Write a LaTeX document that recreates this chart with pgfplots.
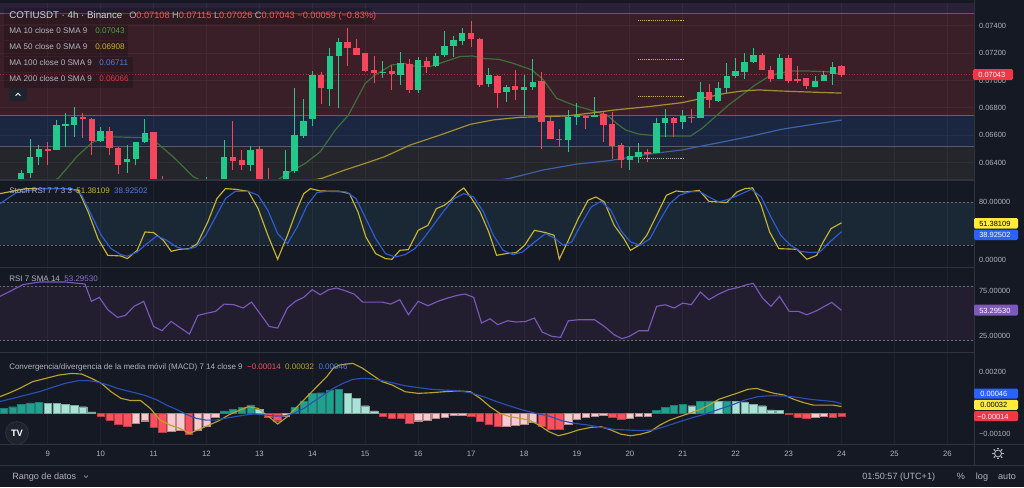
\documentclass[border=0pt]{standalone}
\usepackage{pgfplots}
\usepackage{pgfplotstable}
\pgfplotsset{compat=1.18}
\usepackage{fontspec}
\setmainfont{Liberation Sans}

\definecolor{bg}{HTML}{151924}
\definecolor{sep}{HTML}{2F333E}
\definecolor{lbl}{HTML}{B2B5BE}
\definecolor{ttl}{HTML}{D1D4DC}
\definecolor{bandtop}{HTML}{2A2137}
\definecolor{bandred}{HTML}{3A1F28}
\definecolor{bandblue}{HTML}{1B2641}
\definecolor{bandgray}{HTML}{24262C}
\definecolor{lnred}{HTML}{B8354A}
\definecolor{lnblue}{HTML}{3A62C8}
\definecolor{lngray}{HTML}{585B66}
\definecolor{upc}{HTML}{22C98A}
\definecolor{dnc}{HTML}{F4475C}
\definecolor{ma10}{HTML}{3F6E3B}
\definecolor{ma50}{HTML}{A1902F}
\definecolor{ma100}{HTML}{3F60A6}
\definecolor{v10}{HTML}{4AA545}
\definecolor{v50}{HTML}{C9B42C}
\definecolor{v100}{HTML}{4A7FD9}
\definecolor{v200}{HTML}{D8394B}
\definecolor{stband}{HTML}{1A2836}
\definecolor{rsiband}{HTML}{221E30}
\definecolor{dashc}{HTML}{676B76}
\definecolor{kline}{HTML}{C8B630}
\definecolor{dline}{HTML}{2F5CD6}
\definecolor{rsil}{HTML}{7B58BB}
\definecolor{macdl}{HTML}{B9A32B}
\definecolor{sigl}{HTML}{2A4FB8}
\definecolor{hdk}{HTML}{22A08E}
\definecolor{hlt}{HTML}{A9E2D6}
\definecolor{hrd}{HTML}{F9515E}
\definecolor{hpk}{HTML}{F9C9CD}
\definecolor{tvyel}{HTML}{FFEB3B}
\definecolor{tvblue}{HTML}{2962FF}
\definecolor{tvpurp}{HTML}{7E57C2}
\definecolor{tvred}{HTML}{F23645}
\definecolor{valred}{HTML}{F7525F}
\definecolor{btn}{HTML}{1F232E}

\newcommand{\fs}[1]{\fontsize{#1}{#1}\selectfont}

% 4h candles, k = 0 is day 9 00:00 (6 bars a day)
\pgfplotstableread{
k  o       h       l       c
-5 0.06200 0.06260 0.06180 0.06240
-3 0.06270 0.06347 0.06250 0.06322
-2 0.06322 0.06571 0.06286 0.06444
-1 0.06439 0.06529 0.06383 0.06498
1  0.06493 0.06712 0.06493 0.06675
2  0.06665 0.06760 0.06517 0.06680
3  0.06675 0.06804 0.06590 0.06736
6  0.06558 0.06663 0.06553 0.06631
9  0.06407 0.06529 0.06322 0.06427
10 0.06424 0.06553 0.06383 0.06553
11 0.06553 0.06716 0.06541 0.06614
14 0.06200 0.06260 0.06180 0.06230
16 0.06180 0.06240 0.06170 0.06210
17 0.06210 0.06270 0.06200 0.06250
18 0.06250 0.06298 0.06240 0.06275
20 0.06245 0.06566 0.06235 0.06439
23 0.06383 0.06522 0.06342 0.06493
26 0.06210 0.06260 0.06195 0.06240
27 0.06240 0.06493 0.06230 0.06342
28 0.06342 0.06948 0.06322 0.06602
29 0.06597 0.06863 0.06578 0.06707
30 0.06717 0.07069 0.06668 0.07040
32 0.06938 0.07235 0.06816 0.07181
33 0.07181 0.07308 0.06797 0.07279
38 0.07057 0.07145 0.07016 0.07064
40 0.07038 0.07210 0.06967 0.07130
42 0.06931 0.07174 0.06906 0.07150
44 0.07106 0.07198 0.07096 0.07181
45 0.07186 0.07364 0.07174 0.07254
46 0.07254 0.07325 0.07169 0.07296
47 0.07291 0.07381 0.07259 0.07344
50 0.06974 0.07089 0.06950 0.07040
52 0.06914 0.06967 0.06845 0.06955
54 0.06931 0.07040 0.06741 0.06950
55 0.06955 0.07155 0.06931 0.06991
59 0.06566 0.06785 0.06480 0.06736
60 0.06736 0.06833 0.06675 0.06746
62 0.06741 0.06877 0.06736 0.06748
66 0.06420 0.06517 0.06347 0.06449
67 0.06439 0.06541 0.06395 0.06480
69 0.06473 0.06724 0.06468 0.06692
70 0.06692 0.06792 0.06590 0.06724
72 0.06695 0.06785 0.06646 0.06741
74 0.06729 0.06987 0.06729 0.06914
76 0.06853 0.06987 0.06845 0.06948
77 0.06948 0.07130 0.06906 0.07035
78 0.07035 0.07162 0.07016 0.07072
79 0.07064 0.07198 0.07011 0.07137
80 0.07137 0.07235 0.07125 0.07186
83 0.07011 0.07193 0.07011 0.07162
87 0.06955 0.07033 0.06955 0.06999
88 0.06999 0.07069 0.06999 0.07040
89 0.07045 0.07133 0.06967 0.07101
}\upbars

\pgfplotstableread{
k  o       h       l       c
-4 0.06240 0.06270 0.06200 0.06220
0  0.06498 0.06553 0.06383 0.06488
4  0.06736 0.06760 0.06578 0.06717
5  0.06721 0.06724 0.06456 0.06558
7  0.06631 0.06658 0.06456 0.06505
8  0.06505 0.06517 0.06317 0.06383
12 0.06622 0.06626 0.06220 0.06240
13 0.06240 0.06303 0.06180 0.06200
15 0.06230 0.06250 0.06150 0.06180
19 0.06275 0.06280 0.06220 0.06240
21 0.06444 0.06707 0.06347 0.06415
22 0.06420 0.06493 0.06347 0.06383
24 0.06498 0.06522 0.06230 0.06250
25 0.06250 0.06359 0.06190 0.06210
31 0.07038 0.07064 0.06826 0.06943
34 0.07279 0.07381 0.07106 0.07235
35 0.07235 0.07301 0.07186 0.07186
36 0.07203 0.07203 0.07064 0.07069
37 0.07077 0.07179 0.06984 0.07052
39 0.07069 0.07113 0.06931 0.07047
41 0.07120 0.07155 0.06906 0.06931
43 0.07142 0.07174 0.07057 0.07101
48 0.07344 0.07437 0.07247 0.07301
49 0.07301 0.07308 0.06950 0.06967
51 0.07035 0.07040 0.06802 0.06906
53 0.06960 0.07077 0.06858 0.06931
56 0.06996 0.07064 0.06498 0.06699
57 0.06704 0.06736 0.06571 0.06571
58 0.06575 0.06646 0.06512 0.06566
61 0.06741 0.06748 0.06644 0.06731
63 0.06755 0.06772 0.06549 0.06675
64 0.06680 0.06772 0.06427 0.06524
65 0.06529 0.06546 0.06359 0.06420
68 0.06480 0.06498 0.06407 0.06468
71 0.06724 0.06731 0.06590 0.06687
73 0.06736 0.06790 0.06687 0.06724
75 0.06914 0.06972 0.06797 0.06858
81 0.07186 0.07198 0.07077 0.07077
82 0.07077 0.07106 0.06991 0.07011
84 0.07162 0.07186 0.06984 0.06996
85 0.07011 0.07106 0.06984 0.06999
86 0.07016 0.07016 0.06936 0.06960
90 0.07108 0.07115 0.07026 0.07043
}\downbars

% MACD histogram, split by colour
\pgfplotstableread{
k v
-5 0.00023
-4 0.00031
-3 0.00041
-2 0.00050
-1 0.00054
20 0.00011
21 0.00019
22 0.00028
23 0.00040
28 0.00028
29 0.00060
30 0.00097
31 0.00099
32 0.00109
33 0.00117
69 0.00015
70 0.00028
71 0.00039
72 0.00044
74 0.00057
75 0.00060
77 0.00060
}\hdark
\pgfplotstableread{
k v
0 0.00049
1 0.00047
2 0.00044
3 0.00039
4 0.00031
5 0.00006
24 0.00019
34 0.00096
35 0.00073
36 0.00036
37 0.00011
73 0.00036
76 0.00057
78 0.00057
79 0.00055
80 0.00044
81 0.00036
82 0.00016
83 0.00013
}\hlight
\pgfplotstableread{
k v
6 -0.00013
7 -0.00034
8 -0.00053
9 -0.00065
12 -0.00070
13 -0.00091
16 -0.00102
25 -0.00018
26 -0.00037
38 -0.00013
39 -0.00024
40 -0.00026
41 -0.00050
48 -0.00013
49 -0.00040
50 -0.00053
51 -0.00066
56 -0.00062
57 -0.00078
58 -0.00080
64 -0.00018
65 -0.00032
84 -0.00005
85 -0.00018
86 -0.00024
89 -0.00018
90 -0.00014
}\hred
\pgfplotstableread{
k v
10 -0.00050
11 -0.00037
14 -0.00086
15 -0.00084
17 -0.00083
18 -0.00065
19 -0.00021
27 -0.00013
42 -0.00037
43 -0.00034
44 -0.00024
45 -0.00018
46 -0.00011
47 -0.00008
52 -0.00062
53 -0.00057
54 -0.00053
55 -0.00045
59 -0.00053
60 -0.00029
61 -0.00018
62 -0.00013
63 -0.00010
66 -0.00024
67 -0.00016
68 -0.00013
87 -0.00022
88 -0.00013
}\hpink

\pgfplotsset{
  panel/.style={
    scale only axis, width=730.5pt, anchor=south west,
    xmin=-5.41, xmax=105.02,
    axis line style={draw=none}, tick style={draw=none},
    scaled y ticks=false, scaled x ticks=false,
    xtick={0,6,...,102}, xticklabels={},
    yticklabel pos=right,
    yticklabel style={anchor=west, xshift=2.6pt, inner sep=1pt, font=\fs{5.6}, text=lbl},
  },
}
\tikzset{
  gridln/.style={white, opacity=0.045, line width=0.75pt},
  bandln/.style={dashc, line width=0.6pt, dash pattern=on 1.5pt off 1.5pt},
}

\newcommand{\candles}[2]{%
  \addplot[draw=none, mark=none, forget plot,
    error bars/.cd, y dir=both, y explicit, error mark=none,
    error bar style={draw=#2, solid, line width=0.75pt}]
    table[x=k, y expr={(\thisrow{h}+\thisrow{l})/2}, y error expr={(\thisrow{h}-\thisrow{l})/2}] {#1};
  \addplot[draw=none, mark=none, forget plot,
    error bars/.cd, y dir=both, y explicit, error mark=none,
    error bar style={draw=#2, solid, line width=4.8pt}]
    table[x=k, y expr={(\thisrow{o}+\thisrow{c})/2}, y error expr={max(abs(\thisrow{c}-\thisrow{o})/2,0.000012)}] {#1};
}
\newcommand{\daygrid}[2]{%
  \pgfplotsinvokeforeach{0,6,...,102}{\draw[gridln] (axis cs:##1,#1) -- (axis cs:##1,#2);}
}

\begin{document}
\begin{tikzpicture}
\fill[bg] (0,0) rectangle (768pt,365.25pt);
\path[use as bounding box] (0,0) rectangle (768pt,365.25pt);

% ---------------- price panel ----------------
\begin{axis}[panel, at={(0pt,231pt)}, height=131.25pt,
  ymin=0.062809, ymax=0.075584,
  ytick={0.064,0.066,0.068,0.070,0.072,0.074},
  yticklabels={0.06400,0.06600,0.06800,0.07000,0.07200,0.07400}]
\fill[bandtop]  (axis cs:-6,0.07489) rectangle (axis cs:106,0.0760);
\fill[bandred]  (axis cs:-6,0.06743) rectangle (axis cs:106,0.07489);
\fill[bandblue] (axis cs:-6,0.06517) rectangle (axis cs:106,0.06743);
\fill[bandgray] (axis cs:-6,0.0620)  rectangle (axis cs:106,0.06517);
\daygrid{0.06}{0.08}
\pgfplotsinvokeforeach{0.064,0.066,0.068,0.070,0.072,0.074}{\draw[gridln] (axis cs:-6,#1) -- (axis cs:106,#1);}
\addplot[lnred, line width=0.8pt] coordinates {(-6,0.07489) (106,0.07489)};
\addplot[lnblue, line width=0.8pt] coordinates {(-6,0.06743) (106,0.06743)};
\addplot[lngray, line width=0.8pt] coordinates {(-6,0.06517) (106,0.06517)};
% levels
\addplot[kline, line width=0.9pt, dash pattern=on 0.8pt off 0.8pt] coordinates {(66.9,0.07440) (72.0,0.07440)};
\addplot[kline, line width=0.9pt, dash pattern=on 0.8pt off 0.8pt] coordinates {(66.9,0.07155) (72.0,0.07155)};
\addplot[kline, line width=0.9pt, dash pattern=on 0.8pt off 0.8pt] coordinates {(66.9,0.06882) (72.0,0.06882)};
\addplot[lbl, line width=0.9pt, dash pattern=on 0.8pt off 0.8pt] coordinates {(66.9,0.06429) (72.0,0.06429)};
% last price
\addplot[tvred, opacity=0.6, line width=0.6pt, dash pattern=on 0.7pt off 1.4pt] coordinates {(-6,0.07043) (106,0.07043)};
% moving averages
\addplot[ma10, line width=0.9pt] coordinates {
(-5.4,0.06180) (-2,0.06200) (0,0.06250) (1.2,0.06286) (3.3,0.06444) (5.0,0.06546) (6.7,0.06590)
(10.5,0.06583) (12,0.06566) (14.2,0.06444) (16.5,0.06298) (18,0.06250) (21,0.06200) (25,0.06230)
(27.5,0.06334) (29.2,0.06395) (30.9,0.06480) (32.6,0.06639) (34.1,0.06748) (36,0.06979) (37.1,0.07040)
(39,0.07113) (40.5,0.07125) (41.1,0.07106) (43.3,0.07101) (45,0.07137) (46.7,0.07174) (48.1,0.07179)
(49.6,0.07159) (51.1,0.07155) (52.8,0.07125) (54.9,0.07077) (56.2,0.07004) (57.7,0.06870) (59.6,0.06821)
(61.5,0.06785) (63.4,0.06748) (64.5,0.06687) (65.5,0.06639) (67,0.06609) (69.2,0.06595) (72.9,0.06595)
(74.2,0.06651) (75.7,0.06736) (77.2,0.06821) (78.7,0.06894) (80.2,0.06967) (81.7,0.07028) (82.8,0.07052)
(84.4,0.07069) (86.2,0.07069) (88.5,0.07064) (90,0.07043)};
\addplot[ma50, line width=0.9pt] coordinates {
(20,0.06150) (31.1,0.06286) (33.7,0.06347) (36,0.06395) (38.2,0.06444) (41.1,0.06529) (44.5,0.06602)
(47.9,0.06680) (50.5,0.06712) (53.5,0.06731) (56.2,0.06736) (58.8,0.06741) (61.9,0.06765) (64.3,0.06785)
(68.1,0.06809) (71.9,0.06838) (74.2,0.06870) (76.8,0.06906) (78.7,0.06923) (80.6,0.06931) (83.2,0.06923)
(86.2,0.06916) (90,0.06908)};
\addplot[ma100, line width=0.9pt] coordinates {
(40,0.06150) (52.4,0.06286) (56.2,0.06347) (60,0.06390) (63.7,0.06415) (68.1,0.06463) (71.9,0.06493)
(75.7,0.06541) (79.5,0.06590) (83.2,0.06644) (87,0.06682) (90,0.06711)};
\candles{\upbars}{upc}
\candles{\downbars}{dnc}
\end{axis}

% ---------------- Stoch RSI ----------------
\begin{axis}[panel, at={(0pt,165pt)}, height=64.5pt,
  ymin=-10.3, ymax=109.7, ytick={0,80}, yticklabels={0.00000,80.00000}]
\fill[stband] (axis cs:-6,20) rectangle (axis cs:106,80);
\daygrid{-20}{120}
\draw[bandln] (axis cs:-6,80) -- (axis cs:106,80);
\draw[bandln] (axis cs:-6,20) -- (axis cs:106,20);
\addplot[kline, line width=0.85pt] coordinates {
(-5.41,92.1) (-2.45,99.1) (2.00,99.1) (3.48,96.7) (4.59,66.5) (5.70,29.3) (6.81,6.0) (8.29,5.1) (9.03,1.4)
(10.15,13.0) (11.03,38.6) (12.00,37.7) (13.11,27.0) (14.00,11.6) (14.96,14.4) (16.07,15.3) (16.96,22.3)
(18.15,52.6) (19.18,85.1) (20.15,99.1) (21.26,98.1) (22.74,95.3) (23.85,71.2) (24.96,34.0) (26.07,0.5)
(27.18,34.0) (28.29,71.2) (29.03,92.1) (29.78,99.1) (30.89,95.8) (33.11,95.3) (34.22,92.1) (35.18,66.5)
(36.07,31.6) (37.18,8.4) (38.29,1.4) (39.03,0.5) (39.92,13.0) (40.89,14.0) (42.00,40.9) (43.11,47.9)
(44.07,71.2) (44.96,75.8) (45.70,82.8) (46.44,93.5) (47.18,100) (48.07,85.1) (49.03,66.5) (50.00,38.6)
(50.89,6.0) (52.00,8.4) (53.11,9.8) (54.07,20.0) (55.18,40.9) (56.44,37.7) (57.41,34.0) (58.00,0.5)
(59.03,27.0) (60.15,57.2) (61.26,82.8) (62.15,87.4) (63.11,80.5) (64.22,47.9) (65.33,29.3) (66.07,13.0)
(67.03,20.0) (67.92,34.0) (69.04,61.9) (70.15,89.8) (71.26,95.8) (72.22,94.4) (73.11,95.3) (73.85,96.7)
(74.96,81.4) (76.07,80.5) (76.96,79.5) (78.15,94.4) (79.04,99.1) (79.92,100) (80.89,75.8) (81.85,38.6)
(82.89,15.3) (83.85,14.9) (84.96,14.4) (86.07,0.5) (87.18,6.0) (87.92,24.7) (88.81,43.3) (90.00,51.38)};
\addplot[dline, line width=0.85pt] coordinates {
(-5.41,78.1) (-3.56,93.5) (-0.97,99.1) (2.74,99.1) (3.85,89.8) (4.96,61.9) (6.07,34.0) (7.18,15.3)
(8.29,7.0) (9.03,4.7) (10.15,10.7) (11.26,22.3) (12.37,33.0) (13.48,27.0) (14.59,17.7) (15.70,14.0)
(16.81,17.7) (17.92,34.0) (19.03,59.5) (20.15,85.1) (21.26,95.3) (22.74,95.3) (23.85,89.8) (24.96,68.8)
(26.07,36.3) (27.18,22.3) (28.29,45.6) (29.41,75.8) (30.52,93.5) (31.63,95.3) (33.85,94.4) (34.96,85.1)
(36.07,57.2) (37.18,29.3) (38.29,8.4) (39.41,3.7) (40.52,7.0) (41.63,15.3) (42.74,31.6) (43.85,50.2)
(44.96,68.8) (46.07,85.1) (47.18,92.1) (48.29,87.4) (49.41,66.5) (50.52,34.0) (51.63,13.0) (52.74,7.0)
(53.85,10.7) (54.96,22.3) (56.44,36.3) (57.55,29.3) (58.44,20.0) (59.41,24.7) (60.52,50.2) (61.63,73.5)
(62.74,81.4) (63.85,68.8) (64.96,40.9) (66.07,24.7) (67.18,20.0) (68.29,29.3) (69.41,54.9) (70.52,78.1)
(71.63,89.8) (72.74,94.4) (73.85,95.3) (74.96,87.4) (76.07,80.5) (77.18,84.2) (78.30,89.8) (79.78,98.1)
(80.89,87.4) (82.00,59.5) (83.11,34.0) (84.22,20.0) (85.33,11.6) (86.44,9.8) (87.55,10.7) (88.67,24.7)
(90.00,38.93)};
\end{axis}

% ---------------- RSI ----------------
\begin{axis}[panel, at={(0pt,101.25pt)}, height=63pt,
  ymin=7.6, ymax=99.8, ytick={25,75}, yticklabels={25.00000,75.00000}]
\fill[rsiband] (axis cs:-6,20) rectangle (axis cs:106,80);
\daygrid{0}{110}
\draw[bandln] (axis cs:-6,80) -- (axis cs:106,80);
\draw[bandln] (axis cs:-6,20) -- (axis cs:106,20);
\addplot[rsil, line width=0.85pt] coordinates {
(-5.41,68.7) (-4.30,74.1) (-2.82,81.5) (-0.97,84.4) (2.00,84.4) (4.22,82.2) (4.96,63.2) (5.85,67.6)
(6.81,54.0) (7.92,45.6) (8.81,47.8) (9.78,57.7) (10.89,63.2) (12.00,35.7) (12.96,31.0) (14.00,41.2)
(14.96,34.6) (16.07,27.3) (17.03,47.8) (18.15,50.4) (19.03,52.2) (20.00,60.2) (21.11,59.5) (22.15,55.9)
(23.11,62.4) (24.22,47.8) (25.11,35.7) (26.07,33.9) (27.18,55.9) (28.07,63.2) (29.03,67.6) (29.99,76.0)
(30.89,70.5) (31.85,76.0) (32.74,77.8) (33.70,74.9) (34.74,71.2) (35.70,62.4) (36.81,62.4) (37.92,62.4)
(38.89,60.2) (39.92,65.0) (40.89,48.5) (42.00,63.2) (43.11,58.4) (44.22,63.2) (45.33,66.8) (46.44,69.8)
(47.33,71.2) (48.29,67.6) (49.18,39.4) (50.15,44.1) (51.03,37.6) (52.15,41.9) (53.11,40.5) (54.22,41.2)
(55.18,44.9) (56.07,29.5) (57.18,24.7) (58.15,23.7) (59.03,41.9) (60.15,43.0) (62.00,43.0) (63.11,35.7)
(64.22,26.6) (65.11,22.2) (65.92,24.7) (67.03,31.0) (68.07,31.0) (69.04,57.7) (70.00,59.5) (71.04,55.9)
(72.00,61.3) (72.96,59.5) (74.00,73.4) (74.96,65.0) (76.07,71.2) (77.18,76.0) (78.30,78.5) (79.26,81.5)
(80.00,82.9) (81.04,66.8) (82.00,57.7) (82.96,68.7) (84.07,52.2) (85.11,52.2) (86.07,48.5) (87.18,52.9)
(88.07,57.7) (88.89,62.1) (90.00,53.30)};
\end{axis}

% ---------------- MACD ----------------
\begin{axis}[panel, at={(0pt,32.25pt)}, height=68.25pt,
  ymin=-0.001502, ymax=0.002922, ytick={-0.001,0.002}, yticklabels={−0.00100,0.00200},
  xticklabels={9,10,11,12,13,14,15,16,17,18,19,20,21,22,23,24,25,26},
  xticklabel style={anchor=base, yshift=-9.6pt, font=\fs{5.8}, text=lbl}]
\daygrid{-0.01}{0.01}
\addplot[ybar, bar width=5.6pt, bar shift=0pt, fill=hdk, draw=hdk!80!black, line width=0.3pt, forget plot] table[x=k,y=v] {\hdark};
\addplot[ybar, bar width=5.6pt, bar shift=0pt, fill=hlt, draw=hlt!75!black, line width=0.3pt, forget plot] table[x=k,y=v] {\hlight};
\addplot[ybar, bar width=5.6pt, bar shift=0pt, fill=hrd, draw=hrd!75!black, line width=0.3pt, forget plot] table[x=k,y=v] {\hred};
\addplot[ybar, bar width=5.6pt, bar shift=0pt, fill=hpk, draw=hpk!70!black, line width=0.3pt, forget plot] table[x=k,y=v] {\hpink};
\addplot[macdl, line width=0.85pt] coordinates {
(-5.41,0.00080) (-4.30,0.00099) (-3.19,0.00120) (-1.71,0.00153) (-0.22,0.00169) (1.26,0.00185) (2.74,0.00193)
(3.85,0.00190) (4.96,0.00169) (6.07,0.00145) (7.18,0.00104) (8.29,0.00072) (9.40,0.00061) (10.52,0.00061)
(11.63,0.00023) (12.74,-0.00034) (13.85,-0.00058) (14.96,-0.00074) (16.07,-0.00098) (17.18,-0.00079)
(18.29,-0.00058) (19.41,-0.00037) (20.52,-0.00009) (21.63,0.00012) (22.74,0.00031) (23.85,0.00023)
(24.96,-0.00014) (26.07,-0.00053) (27.18,-0.00017) (28.29,0.00031) (29.41,0.00080) (30.52,0.00129)
(31.63,0.00177) (32.37,0.00218) (33.11,0.00234) (34.59,0.00242) (35.70,0.00218) (36.81,0.00185)
(37.92,0.00153) (39.03,0.00137) (40.52,0.00104) (42.00,0.00096) (43.48,0.00099) (44.96,0.00104)
(46.44,0.00108) (47.92,0.00104) (49.03,0.00072) (50.15,0.00031) (51.26,-0.00001) (52.37,-0.00017)
(53.48,-0.00025) (54.59,-0.00034) (55.70,-0.00058) (56.81,-0.00090) (57.92,-0.00110) (59.03,-0.00098)
(60.15,-0.00082) (61.63,-0.00069) (62.74,-0.00066) (63.85,-0.00082) (64.96,-0.00102) (66.07,-0.00110)
(67.18,-0.00103) (68.29,-0.00090) (69.41,-0.00058) (70.52,-0.00034) (71.63,-0.00017) (72.74,-0.00001)
(73.85,0.00015) (74.96,0.00039) (76.07,0.00067) (77.18,0.00083) (78.30,0.00099) (79.41,0.00116)
(80.37,0.00120) (81.26,0.00109) (82.37,0.00096) (83.48,0.00088) (84.59,0.00067) (85.70,0.00051)
(86.81,0.00039) (87.92,0.00039) (89.04,0.00039) (90.00,0.00032)};
\addplot[sigl, line width=0.85pt] coordinates {
(-5.41,0.00056) (-3.93,0.00072) (-2.45,0.00088) (-0.97,0.00104) (0.52,0.00125) (2.00,0.00145) (3.48,0.00158)
(4.59,0.00158) (5.70,0.00150) (6.81,0.00137) (7.92,0.00120) (9.40,0.00104) (10.89,0.00088) (12.37,0.00064)
(13.48,0.00039) (14.59,0.00018) (15.70,-0.00006) (16.81,-0.00025) (17.92,-0.00034) (19.03,-0.00034)
(20.15,-0.00025) (21.26,-0.00017) (22.37,-0.00009) (23.48,-0.00004) (24.59,-0.00009) (25.70,-0.00014)
(26.81,-0.00014) (27.92,-0.00001) (29.03,0.00023) (30.15,0.00056) (31.26,0.00088) (32.37,0.00120)
(33.48,0.00145) (34.59,0.00164) (35.70,0.00169) (36.81,0.00166) (37.92,0.00158) (39.03,0.00148)
(40.52,0.00133) (42.00,0.00124) (43.48,0.00116) (44.96,0.00112) (46.44,0.00109) (47.92,0.00099)
(49.41,0.00080) (50.89,0.00056) (52.37,0.00035) (53.85,0.00015) (55.33,-0.00001) (56.81,-0.00014)
(58.29,-0.00037) (59.78,-0.00050) (61.26,-0.00058) (62.74,-0.00069) (64.22,-0.00079) (65.70,-0.00082)
(67.18,-0.00085) (68.67,-0.00082) (70.15,-0.00063) (71.63,-0.00042) (73.11,-0.00022) (74.59,-0.00004)
(76.07,0.00018) (77.55,0.00039) (79.04,0.00064) (80.52,0.00080) (82.00,0.00085) (83.48,0.00083)
(84.96,0.00077) (86.44,0.00067) (87.92,0.00061) (89.04,0.00056) (90.00,0.00046)};
\end{axis}

% ---------------- overlay, in screen pixels ----------------
\begin{scope}[shift={(0pt,365.25pt)}, x=0.75pt, y=-0.75pt]
% separators
\draw[sep, line width=0.9pt] (0,180) -- (974.5,180);
\draw[sep, line width=0.9pt] (0,267.5) -- (974.5,267.5);
\draw[sep, line width=0.9pt] (0,352.5) -- (974.5,352.5);
\draw[sep, line width=0.9pt] (0,444.5) -- (1024,444.5);
\draw[sep, line width=0.9pt] (974.5,0) -- (974.5,465);
\draw[sep, line width=0.6pt] (0,465) -- (1024,465);
% legend backgrounds
\fill[black, opacity=0.18] (4,8) rectangle (372,23.5);
\fill[black, opacity=0.18] (4,24.5) rectangle (128,39.5);
\fill[black, opacity=0.18] (4,40.5) rectangle (128,55.5);
\fill[black, opacity=0.18] (4,56.5) rectangle (133,71.5);
\fill[black, opacity=0.18] (4,72.5) rectangle (133,87.5);
% title row
\node[anchor=base west, inner sep=0, font=\fs{7.3}, text=ttl] at (9,18.3) {COTIUSDT · 4h · Binance};
\node[anchor=base west, inner sep=0, font=\fs{6.9}, text=valred] at (129,18.3)
  {{\color{lbl}O}0.07108 {\color{lbl}H}0.07115 {\color{lbl}L}0.07026 {\color{lbl}C}0.07043 −0.00059 (−0.83\%)};
% MA legend
\node[anchor=base west, inner sep=0, font=\fs{6.1}, text=lbl] at (9,33.8) {MA 10 close 0 SMA 9};
\node[anchor=base west, inner sep=0, font=\fs{6.1}, text=v10] at (95,33.8) {0.07043};
\node[anchor=base west, inner sep=0, font=\fs{6.1}, text=lbl] at (9,49.6) {MA 50 close 0 SMA 9};
\node[anchor=base west, inner sep=0, font=\fs{6.1}, text=v50] at (95,49.6) {0.06908};
\node[anchor=base west, inner sep=0, font=\fs{6.1}, text=lbl] at (9,65.4) {MA 100 close 0 SMA 9};
\node[anchor=base west, inner sep=0, font=\fs{6.1}, text=v100] at (99,65.4) {0.06711};
\node[anchor=base west, inner sep=0, font=\fs{6.1}, text=lbl] at (9,81.2) {MA 200 close 0 SMA 9};
\node[anchor=base west, inner sep=0, font=\fs{6.1}, text=v200] at (99,81.2) {0.06066};
\fill[btn, rounded corners=1.5pt] (9,87.5) rectangle (27,101);
\draw[white, line width=0.6pt] (15.6,95.6) -- (18,93.2) -- (20.4,95.6);
% panel legends
\node[anchor=base west, inner sep=0, font=\fs{6}, text=lbl] at (9,193)
  {Stoch RSI 7 7 3 3 \ {\color{kline}51.38109}\ \ {\color{dline!80!white}38.92502}};
\node[anchor=base west, inner sep=0, font=\fs{6}, text=lbl] at (9,281.5)
  {RSI 7 SMA 14 \ {\color{tvpurp!85!white}53.29530}};
\node[anchor=base west, inner sep=0, font=\fs{6}, text=lbl] at (9,369)
  {Convergencia/divergencia de la media móvil (MACD) 7 14 close 9 \ {\color{hrd}−0.00014}\ \ {\color{macdl}0.00032}\ \ {\color{dline!80!white}0.00046}};
% value tags on the price scale
\fill[tvred, rounded corners=1pt] (973,69) rectangle (1013,80);
\node[anchor=base west, inner sep=0, font=\fs{5.6}, text=white] at (978,77.3) {0.07043};
\fill[tvyel, rounded corners=1pt] (974,218) rectangle (1018,228.5);
\node[anchor=base west, inner sep=0, font=\fs{5.6}, text=black] at (979,226.2) {51.38109};
\fill[tvblue, rounded corners=1pt] (974,229.5) rectangle (1018,240);
\node[anchor=base west, inner sep=0, font=\fs{5.6}, text=white] at (979,237.7) {38.92502};
\fill[tvpurp, rounded corners=1pt] (974,304.5) rectangle (1018,315.5);
\node[anchor=base west, inner sep=0, font=\fs{5.6}, text=white] at (979,313) {53.29530};
\fill[tvblue, rounded corners=1pt] (974,388.5) rectangle (1018,398.5);
\node[anchor=base west, inner sep=0, font=\fs{5.6}, text=white] at (980,396.3) {0.00046};
\fill[tvyel, rounded corners=1pt] (974,399.8) rectangle (1018,409.8);
\node[anchor=base west, inner sep=0, font=\fs{5.6}, text=black] at (980,407.6) {0.00032};
\fill[tvred, rounded corners=1pt] (974,411.2) rectangle (1018,421.2);
\node[anchor=base west, inner sep=0, font=\fs{5.6}, text=white] at (977,419) {−0.00014};
% logo
\fill[btn] (17,433) circle (8.6pt);
\draw[sep, line width=0.5pt] (17,433) circle (8.6pt);
\node[inner sep=0, font=\bfseries\fs{7}, text=white] at (17,433) {TV};
% bottom bar
\node[anchor=base west, inner sep=0, font=\fs{6.8}, text=lbl] at (12,479.5) {Rango de datos};
\draw[lbl, line width=0.5pt] (84,475.5) -- (86,477.5) -- (88,475.5);
\node[anchor=base west, inner sep=0, font=\fs{6.8}, text=lbl] at (862,479.5) {01:50:57 (UTC+1)};
\node[anchor=base, inner sep=0, font=\fs{6.8}, text=lbl] at (961,479.5) {\%};
\node[anchor=base, inner sep=0, font=\fs{6.8}, text=lbl] at (982,479.5) {log};
\node[anchor=base, inner sep=0, font=\fs{6.8}, text=lbl] at (1007,479.5) {auto};
\draw[lbl, line width=0.7pt] (998,453.5) circle (2.6pt);
\foreach \a in {0,45,...,315} \draw[lbl, line width=0.9pt] ([shift={(\a:3.2pt)}]998,453.5) -- ([shift={(\a:4.4pt)}]998,453.5);
\end{scope}
\end{tikzpicture}
\end{document}
